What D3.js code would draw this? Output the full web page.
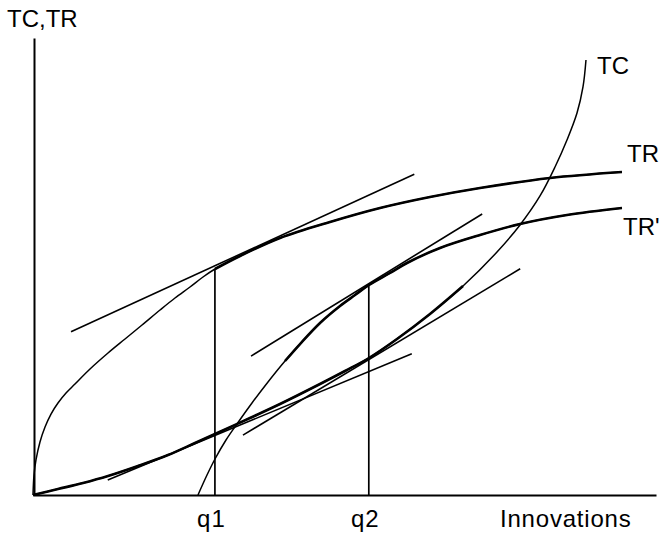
<!DOCTYPE html>
<html>
<head>
<meta charset="utf-8">
<script src="https://cdn.jsdelivr.net/npm/d3@7"></script>
<style>
  html, body { margin: 0; padding: 0; background: #fff; }
  svg { display: block; }
  text { font-family: "Liberation Sans", Arial, Helvetica, sans-serif; fill: #000; }
</style>
</head>
<body>
<svg id="chart" width="659" height="533"></svg>
<script>
// ---- data (x: innovations, y: cost / revenue, arbitrary units 0..100) ----
const trX  = [0, 0.16, 0.48, 1.12, 1.93, 2.89, 4.01, 5.30, 6.74, 9.15, 12.04, 14.77, 17.50, 20.39, 22.79, 25.20, 27.29, 29.21, 33.23, 39.65, 47.67, 55.70, 63.72, 71.75, 82.99, 94.54];
const trY  = [0, 4.38, 7.66, 11.60, 14.88, 17.72, 20.13, 22.32, 24.29, 27.57, 31.07, 34.14, 37.20, 40.48, 43.11, 45.51, 47.70, 49.45, 52.30, 56.24, 59.74, 62.80, 65.21, 67.18, 69.37, 70.68];

const trpX = [26.48, 27.93, 29.21, 30.98, 32.74, 35.15, 37.72, 40.45, 42.86, 46.07, 49.28, 51.69, 53.93, 57.30, 60.03, 65.33, 71.75, 78.17, 85.71, 94.54];
const trpY = [0, 4.38, 7.88, 12.04, 15.54, 20.13, 24.73, 29.32, 33.04, 37.64, 41.36, 43.76, 45.95, 48.58, 50.77, 54.05, 56.89, 59.30, 61.27, 62.80];

const tcX  = [0, 4.01, 8.03, 12.04, 16.85, 21.67, 26.00, 29.21, 34.83, 39.65, 46.07, 50.08, 53.93, 58.43, 63.72, 69.02, 74.48, 78.17, 81.38, 83.79, 85.71, 87.32, 88.28, 88.76];
const tcY  = [0, 1.31, 2.63, 4.16, 6.35, 8.75, 11.38, 13.35, 16.85, 19.91, 24.29, 27.13, 29.98, 34.14, 39.61, 45.73, 53.17, 59.08, 65.43, 71.77, 77.68, 83.59, 89.28, 95.19];

// tangent segments: [x1, y1, x2, y2]
const tangentTRq1  = [6.1, 35.7, 61.2, 70.2];
const tangentTCq1  = [12.0, 3.3, 60.8, 30.9];
const tangentTRpq2 = [35.0, 30.4, 72.1, 61.5];
const tangentTCq2  = [33.7, 13.1, 78.2, 49.5];

const qValues = [29.2, 53.9];
const qLabels = ["q1", "q2"];
const qTops   = [49.45, 45.95];   // TR at q1, TR' at q2

const curveLabels = ["TC", "TR", "TR'"];
const axisLabelY = "TC,TR";
const axisLabelX = "Innovations";

// ---- drawing ----
const svg = d3.select("#chart");
const x = d3.scaleLinear().domain([0, 100]).range([33, 656]);
const y = d3.scaleLinear().domain([0, 100]).range([495, 38]);

const zip = (xs, ys) => xs.map((v, i) => [v, ys[i]]);
const tr  = zip(trX, trY);
const trp = zip(trpX, trpY);
const tc  = zip(tcX, tcY);

const line = d3.line().x(d => x(d[0])).y(d => y(d[1])).curve(d3.curveCatmullRom.alpha(0.5));

// axes
const xAxis = d3.axisBottom(x).tickValues(qValues).tickSize(0).tickSizeOuter(0)
  .tickPadding(15).tickFormat((d, i) => qLabels[i]);
const gx = svg.append("g").attr("transform", `translate(0,${y(0)})`).call(xAxis);
gx.select(".domain").attr("stroke", "#000").attr("stroke-width", 2.2);
gx.selectAll("text").attr("font-size", 24).attr("dx", -4)
  .attr("font-family", "Liberation Sans, Arial, sans-serif").attr("fill", "#000")
  .attr("letter-spacing", 1);

const yAxis = d3.axisLeft(y).tickValues([]).tickSize(0).tickSizeOuter(0);
const gy = svg.append("g").attr("transform", `translate(${x(0) + 1},0)`).call(yAxis);
gy.select(".domain").attr("stroke", "#000").attr("stroke-width", 2);

// vertical lines at q1, q2
svg.selectAll("line.q").data(qValues).join("line")
  .attr("class", "q")
  .attr("x1", d => x(d)).attr("x2", d => x(d))
  .attr("y1", y(0)).attr("y2", (d, i) => y(qTops[i]))
  .attr("stroke", "#000").attr("stroke-width", 1.7);

// tangents
const tangents = [tangentTRq1, tangentTCq1, tangentTRpq2, tangentTCq2];
svg.selectAll("line.tan").data(tangents).join("line")
  .attr("class", "tan")
  .attr("x1", d => x(d[0])).attr("y1", d => y(d[1]))
  .attr("x2", d => x(d[2])).attr("y2", d => y(d[3]))
  .attr("stroke", "#000").attr("stroke-width", 1.6);

// curves: thin full, thick over part
function drawCurve(data, thickFrom, thickTo) {
  svg.append("path").datum(data).attr("d", line)
    .attr("fill", "none").attr("stroke", "#000").attr("stroke-width", 1.5);
  const part = data.filter(d => d[0] >= thickFrom && d[0] <= thickTo);
  svg.append("path").datum(part).attr("d", line)
    .attr("fill", "none").attr("stroke", "#000").attr("stroke-width", 2.6);
}
drawCurve(tr, qValues[0], 100);
drawCurve(trp, 40, 100);
drawCurve(tc, 0, 72);

// labels
const lab = (t, px, py) => svg.append("text").attr("x", px).attr("y", py)
  .attr("font-size", 24).text(t);
lab(axisLabelY, 7, 27);
lab(curveLabels[0], 597, 74);
lab(curveLabels[1], 627, 162);
lab(curveLabels[2], 623, 235);
lab(axisLabelX, 500, 527).attr("letter-spacing", 0.8);
</script>
</body>
</html>
